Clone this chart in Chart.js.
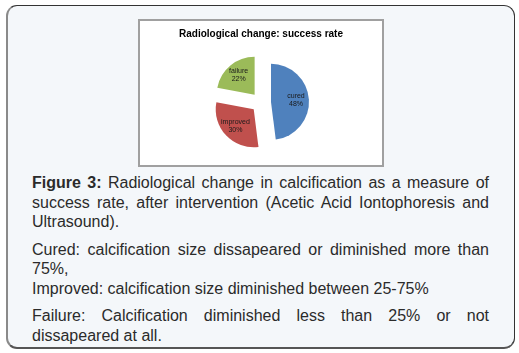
<!DOCTYPE html>
<html>
<head>
<meta charset="utf-8">
<script src="https://cdn.jsdelivr.net/npm/chart.js@4/dist/chart.umd.min.js"></script>
<style>
  html, body { margin:0; padding:0; background:#fff; width:519px; height:353px; overflow:hidden; }
  #outer { position:absolute; left:6px; top:5px; width:509px; height:344px; box-sizing:border-box;
    background:#f4f7fa; border:1px solid #333; border-left:2px solid #8a8a8a; border-bottom:2px solid #555; border-radius:11px; }
  #chartbox { position:absolute; left:138px; top:19px; width:246px; height:148px; box-sizing:border-box;
    background:#fff; border:2px solid #a0a0a0; }
  #chartbox canvas { display:block; }
  #caption { position:absolute; left:32px; top:173px; width:457px; font-family:"Liberation Sans", Arial, sans-serif;
    font-size:16px; line-height:19.5px; color:#2b2b2b; text-align:justify; }
  #caption p { margin:0 0 8px 0; }
</style>
</head>
<body>
<div id="outer"></div>
<div id="chartbox"><canvas id="c" width="242" height="144"></canvas></div>
<div id="caption">
  <p><b>Figure 3:</b> Radiological change in calcification as a measure of success rate, after intervention (Acetic Acid Iontophoresis and Ultrasound).</p>
  <p>Cured: calcification size dissapeared or diminished more than 75%,<br>Improved: calcification size diminished between 25-75%</p>
  <p>Failure: Calcification diminished less than 25% or not dissapeared at all.</p>
</div>
<script>
const categories = ['cured', 'improved', 'failure'];
const values = [48, 30, 22];
const colors = ['#4f81bd', '#c0504d', '#9bbb59'];
const chartTitle = 'Radiological change: success rate';
const EXPLODE = 10;

// Move each slice outward along its mid-angle (exploded pie)
const explode = {
  id: 'explode',
  afterDatasetUpdate(chart, args) {
    const meta = chart.getDatasetMeta(args.index);
    meta.data.forEach(arc => {
      const mid = (arc.startAngle + arc.endAngle) / 2;
      arc.x += Math.cos(mid) * EXPLODE;
      arc.y += Math.sin(mid) * EXPLODE;
    });
  }
};

const sliceLabels = {
  id: 'sliceLabels',
  afterDatasetsDraw(chart) {
    const ctx = chart.ctx;
    const meta = chart.getDatasetMeta(0);
    const ds = chart.data.datasets[0];
    const total = ds.data.reduce((a, b) => a + b, 0);
    ctx.save();
    ctx.font = '7px "Liberation Sans", Arial, sans-serif';
    ctx.fillStyle = '#1a1a1a';
    ctx.textAlign = 'center';
    ctx.textBaseline = 'middle';
    meta.data.forEach((arc, i) => {
      const p = arc.getProps(['x', 'y', 'startAngle', 'endAngle', 'outerRadius']);
      const mid = (p.startAngle + p.endAngle) / 2;
      const d = p.outerRadius * 0.66;
      const x = p.x + Math.cos(mid) * d;
      const y = p.y + Math.sin(mid) * d;
      ctx.fillText(chart.data.labels[i], x, y - 4);
      ctx.fillText(Math.round(ds.data[i] / total * 100) + '%', x, y + 4);
    });
    ctx.restore();
  }
};

new Chart(document.getElementById('c'), {
  type: 'pie',
  data: {
    labels: categories,
    datasets: [{
      data: values,
      backgroundColor: colors,
      borderWidth: 0,
      radius: 38
    }]
  },
  options: {
    responsive: false,
    animation: false,
    layout: { padding: { top: 0, bottom: 6 } },
    plugins: {
      legend: { display: false },
      tooltip: { enabled: false },
      title: {
        display: true,
        text: chartTitle,
        color: '#000',
        font: { family: '"Liberation Sans", Arial, sans-serif', size: 10, weight: 'bold' },
        padding: { top: 7, bottom: 6 }
      }
    }
  },
  plugins: [explode, sliceLabels]
});
</script>
</body>
</html>
